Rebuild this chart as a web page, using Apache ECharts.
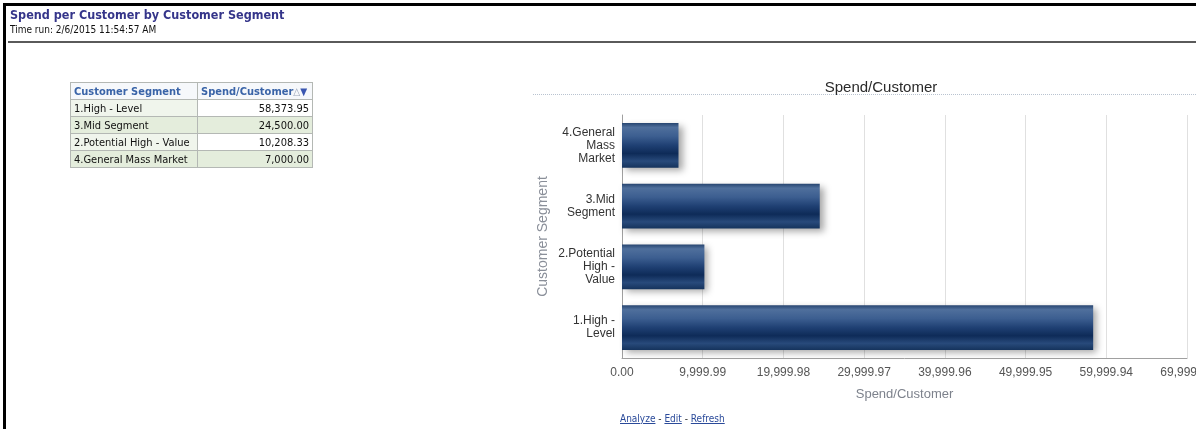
<!DOCTYPE html>
<html>
<head>
<meta charset="utf-8">
<script src="https://cdn.jsdelivr.net/npm/echarts@6/dist/echarts.min.js"></script>
<style>
  html, body { margin: 0; padding: 0; background: #fff; }
  body { width: 1196px; height: 429px; position: relative; overflow: hidden; }
  #chart { position: absolute; left: 0; top: 0; width: 1196px; height: 429px; }
  .frameTop { position: absolute; left: 3px; top: 3px; width: 1193px; height: 3px; background: #000; z-index: 2; }
  .frameLeft { position: absolute; left: 3px; top: 3px; width: 3px; height: 426px; background: #000; z-index: 2; }
  #hdr { position: absolute; left: 10px; top: 7px; z-index: 2; font-family: "DejaVu Sans Condensed", "DejaVu Sans", sans-serif; }
  #hdr .t { color: #35358a; font-weight: bold; font-size: 12.5px; line-height: 15px; }
  #hdr .r { color: #111; font-size: 10px; line-height: 14px; margin-top: 1px; }
  .divider { position: absolute; left: 8px; top: 41px; width: 1188px; height: 2px; background: #5a5a5a; z-index: 2; }
  #tbl { position: absolute; left: 70px; top: 82px; z-index: 2; border-collapse: collapse;
         font-family: "DejaVu Sans Condensed", "DejaVu Sans", sans-serif; font-size: 11px; color: #111; }
  #tbl td, #tbl th { border: 1px solid #b4b8b4; padding: 0 3px; height: 16px; white-space: nowrap; }
  #tbl th { color: #3a64a8; font-weight: bold; text-align: left; background: #f6f8fb; height: 16px; }
  #tbl td.c1 { width: 120px; }
  #tbl td.c2 { width: 108px; text-align: right; }
  #tbl tr.g td { background: #e4eddc; }
  #tbl tr.w td.c1 { background: #f0f5ec; }
  .tri { color: #3a56b0; font-size: 10px; }
  .tri2 { color: #9aa4b8; font-size: 10px; }
  .ctitleLine { position: absolute; left: 533px; top: 94px; width: 663px; height: 0; border-top: 1px dotted #b9c3d0; z-index: 2; }
  #links { position: absolute; left: 620px; top: 413px; z-index: 2; font-family: "DejaVu Sans Condensed", "DejaVu Sans", sans-serif; font-size: 10px; color: #333; }
  #links a { color: #2a4a9a; text-decoration: underline; }
</style>
</head>
<body>
<div id="chart"></div>
<div class="frameTop"></div>
<div class="frameLeft"></div>
<div id="hdr"><div class="t">Spend per Customer by Customer Segment</div><div class="r">Time run: 2/6/2015 11:54:57 AM</div></div>
<div class="divider"></div>
<table id="tbl"></table>
<div class="ctitleLine"></div>
<div id="links"><a>Analyze</a> - <a>Edit</a> - <a>Refresh</a></div>
<script>
// ---- data ----
var tableSegments = ['1.High - Level', '3.Mid Segment', '2.Potential High - Value', '4.General Mass Market'];
var tableValues = [58373.95, 24500.00, 10208.33, 7000.00];

var categories = ['1.High - Level', '2.Potential High - Value', '3.Mid Segment', '4.General Mass Market'];
var categoryTickLabels = ['1.High -\nLevel', '2.Potential\nHigh -\nValue', '3.Mid\nSegment', '4.General\nMass\nMarket'];
var spendValues = [58373.95, 10208.33, 24500.00, 7000.00];

var axisMin = 0;
var axisInterval = 9999.99;
var axisMax = 69999.93;

function fmt(v) {
  return Number(v).toLocaleString('en-US', { minimumFractionDigits: 2, maximumFractionDigits: 2 });
}

// ---- table ----
(function () {
  var t = document.getElementById('tbl');
  var h = '<tr><th>Customer Segment</th><th>Spend/Customer<span class="tri2">&#9651;</span><span class="tri">&#9660;</span></th></tr>';
  for (var i = 0; i < tableSegments.length; i++) {
    h += '<tr class="' + (i % 2 === 1 ? 'g' : 'w') + '"><td class="c1">' + tableSegments[i] + '</td><td class="c2">' + fmt(tableValues[i]) + '</td></tr>';
  }
  t.innerHTML = h;
})();

// ---- chart ----
var chart = echarts.init(document.getElementById('chart'), null, { renderer: 'canvas' });
var barGrad = new echarts.graphic.LinearGradient(0, 0, 0, 1, [
  { offset: 0, color: '#26446f' },
  { offset: 0.1, color: '#4f6f9c' },
  { offset: 0.3, color: '#3c5e90' },
  { offset: 0.5, color: '#1f4073' },
  { offset: 0.68, color: '#0e2b58' },
  { offset: 0.85, color: '#284a7b' },
  { offset: 1, color: '#15335c' }
]);
chart.setOption({
  animation: false,
  title: {
    text: 'Spend/Customer',
    left: 876, top: 75, textAlign: 'center',
    textStyle: { fontFamily: 'Liberation Sans, Arial, sans-serif', fontSize: 15, fontWeight: 'normal', color: '#2a2a2a' }
  },
  grid: { left: 622, right: 9, top: 115, bottom: 71, containLabel: false, outerBoundsMode: 'none' },
  xAxis: {
    type: 'value',
    min: axisMin, max: axisMax, interval: axisInterval,
    name: 'Spend/Customer', nameLocation: 'middle', nameGap: 30,
    nameTextStyle: { fontFamily: 'Liberation Sans, Arial, sans-serif', fontSize: 13, color: '#7d828c' },
    axisLine: { show: true, lineStyle: { color: '#a0a0a0' } },
    axisTick: { show: false },
    axisLabel: { margin: 9, formatter: fmt, fontFamily: 'Liberation Sans, Arial, sans-serif', fontSize: 12, color: '#555' },
    splitLine: { show: true, lineStyle: { color: '#e0e0e0', width: 1 } }
  },
  yAxis: {
    type: 'category',
    data: categories,
    name: 'Customer Segment', nameLocation: 'middle', nameGap: 72, nameRotate: 90,
    nameTextStyle: { fontFamily: 'Liberation Sans, Arial, sans-serif', fontSize: 14, color: '#8a8f99' },
    axisLine: { show: true, lineStyle: { color: '#a0a0a0' } },
    axisTick: { show: false },
    axisLabel: {
      margin: 7,
      formatter: function (v, i) { return categoryTickLabels[i]; },
      fontFamily: 'Liberation Sans, Arial, sans-serif', fontSize: 12, lineHeight: 13, color: '#333', align: 'right'
    },
    splitLine: { show: false }
  },
  series: [{
    type: 'bar',
    data: spendValues,
    barCategoryGap: '26%',
    itemStyle: {
      color: barGrad,
      shadowColor: 'rgba(0,0,0,0.35)',
      shadowBlur: 7,
      shadowOffsetX: 4,
      shadowOffsetY: 3
    }
  }]
});
</script>
</body>
</html>
